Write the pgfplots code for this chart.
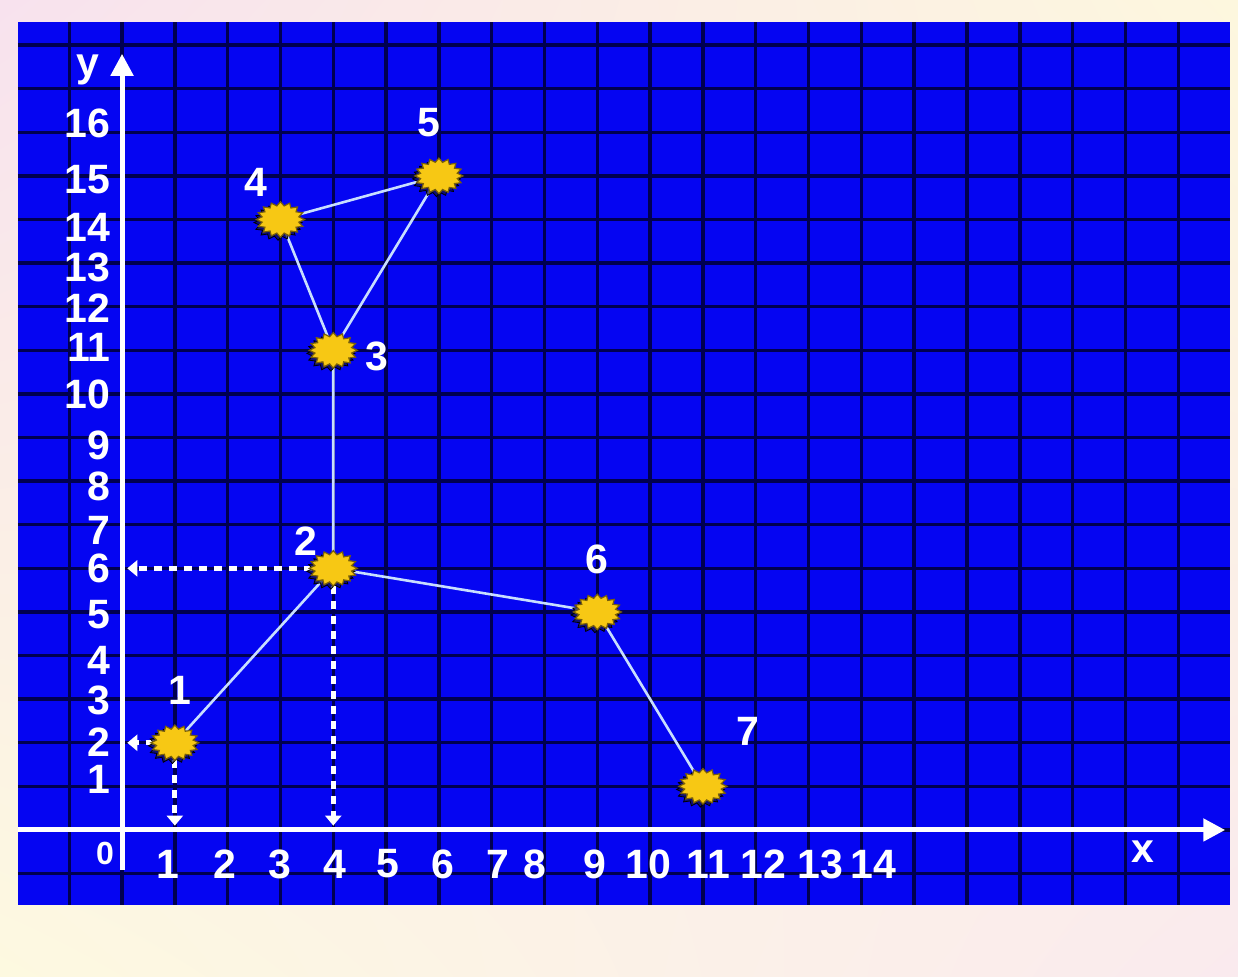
\documentclass[border=0pt]{standalone}
\usepackage{pgfplots}
\pgfplotsset{compat=1.18}
\usepackage{fontspec}
\setmainfont{Liberation Sans}
\usetikzlibrary{arrows.meta,shadings}

\definecolor{bgpink}{RGB}{248,226,238}
\definecolor{bgyellow}{RGB}{253,247,222}
\definecolor{bgyellow2}{RGB}{253,249,224}
\definecolor{bgpink2}{RGB}{250,234,238}
\definecolor{boardblue}{RGB}{5,5,242}
\definecolor{gridline}{RGB}{0,0,80}
\definecolor{staryellow}{RGB}{247,200,20}
\definecolor{stardark}{RGB}{120,95,10}
\definecolor{starshadow}{RGB}{20,20,60}
\definecolor{linkline}{RGB}{200,222,255}

\newcommand\tickfont{\fontsize{20.5}{21}\selectfont\bfseries}

\pgfplotstableread{
x  y  lab dx    dy
1  2  1   2.5   26
4  6  2   -13.5 13.5
4  11 3   22    -3
3  14 4   -12.5 18.5
6  15 5   -5    26.5
9  5  6   0     26.5
11 1  7   22.5  27.5
}\points

% spiky "burst" mark, a bit wider than tall
\newcount\burstk
\pgfdeclareplotmark{burst}{%
  \burstk=0
  \pgfpathmoveto{\pgfpoint{\pgfplotmarksize}{0pt}}%
  \loop
    \advance\burstk by 1
    \ifodd\burstk \def\burstr{0.78}\else \def\burstr{1}\fi
    \pgfpathlineto{\pgfpoint{\burstr*cos(\the\burstk*11.25)*\pgfplotmarksize}{\burstr*0.74*sin(\the\burstk*11.25)*\pgfplotmarksize}}%
  \ifnum\burstk<31 \repeat
  \pgfpathclose
  \pgfusepathqfillstroke
}

\begin{document}
\begin{tikzpicture}
  \shade[upper left=bgpink, upper right=bgyellow, lower left=bgyellow2, lower right=bgpink2]
    (0,0) rectangle (619pt,488.5pt);
  \begin{axis}[
      at={(9pt,36pt)}, anchor=south west,
      scale only axis, width=606pt, height=441.5pt,
      xmin=-1.97, xmax=20.98,
      ymin=-1.72, ymax=18.53,
      axis background/.style={fill=boardblue},
      axis line style={draw=none},
      major tick length=0pt, minor tick length=0pt,
      xtick={0.87,1.95,2.99,4.03,5.04,6.08,7.12,7.82,8.96,9.96,11.1,12.14,13.22,14.22},
      xticklabels={1,2,3,4,5,6,7,8,9,10,11,12,13,14},
      ytick={1.15,2.02,2.98,3.9,4.93,6.0,6.88,7.87,8.83,10.0,11.06,11.97,12.89,13.81,14.91,16.2},
      yticklabels={1,2,3,4,5,6,7,8,9,10,11,12,13,14,15,16},
      minor xtick={-1,0,...,20},
      minor ytick={-1,0,...,18},
      xminorgrids, yminorgrids,
      minor grid style={line width=1.7pt, color=gridline},
      tick label style={white, font=\tickfont, inner sep=0pt},
      xticklabel style={anchor=center, yshift=20.5pt},
      yticklabel style={anchor=east, xshift=46.5pt},
      clip=false,
    ]
    % white axes with arrows
    \draw[white, line width=2.5pt, -{Triangle[width=11pt,length=11pt]}]
      (axis cs:-1.97,0) -- (axis cs:20.89,0);
    \draw[white, line width=2.5pt, -{Triangle[width=11pt,length=11pt]}]
      (axis cs:0,-0.92) -- (axis cs:0,17.8);
    \node[white, font=\fontsize{16}{16}\selectfont\bfseries] at (axis cs:-0.32,-0.55) {0};
    \node[white, font=\tickfont] at (axis cs:-0.64,17.43) {y};
    \node[white, font=\tickfont] at (axis cs:19.34,-0.5) {x};

    % dotted guides to the axes
    \addplot[white, line width=2.5pt, dash pattern=on 4pt off 3.5pt,
      -{Triangle[width=8pt,length=5pt]}] coordinates {(3.6,6) (0.1,6)};
    \addplot[white, line width=2.5pt, dash pattern=on 4pt off 3.5pt,
      -{Triangle[width=8pt,length=5pt]}] coordinates {(4,5.6) (4,0.1)};
    \addplot[white, line width=2.5pt, dash pattern=on 4pt off 3.5pt,
      -{Triangle[width=8pt,length=5pt]}] coordinates {(0.6,2) (0.1,2)};
    \addplot[white, line width=2.5pt, dash pattern=on 4pt off 3.5pt,
      -{Triangle[width=8pt,length=5pt]}] coordinates {(1,1.6) (1,0.1)};

    % connecting lines
    \addplot[linkline, line width=1.3pt, mark=none]
      coordinates {(1,2) (4,6) (4,11) (3,14) (6,15) (4,11)};
    \addplot[linkline, line width=1.3pt, mark=none]
      coordinates {(4,6) (9,5) (11,1)};

    % shadow under the points
    \addplot[only marks, mark=burst, mark size=12pt,
      mark options={fill=starshadow, draw=none, fill opacity=0.7,
        xshift=-1.2pt, yshift=-1.5pt}]
      table {\points};
    % points with their numbers
    \addplot[only marks, mark=burst, mark size=12pt,
      mark options={fill=staryellow, draw=stardark, line width=0.6pt},
      point meta=explicit symbolic, nodes near coords,
      visualization depends on={\thisrow{dx}\as\dx},
      visualization depends on={\thisrow{dy}\as\dy},
      every node near coord/.append style={anchor=center, inner sep=0pt, white,
        font=\tickfont, xshift=\dx pt, yshift=\dy pt}]
      table[meta=lab] {\points};
  \end{axis}
\end{tikzpicture}
\end{document}
